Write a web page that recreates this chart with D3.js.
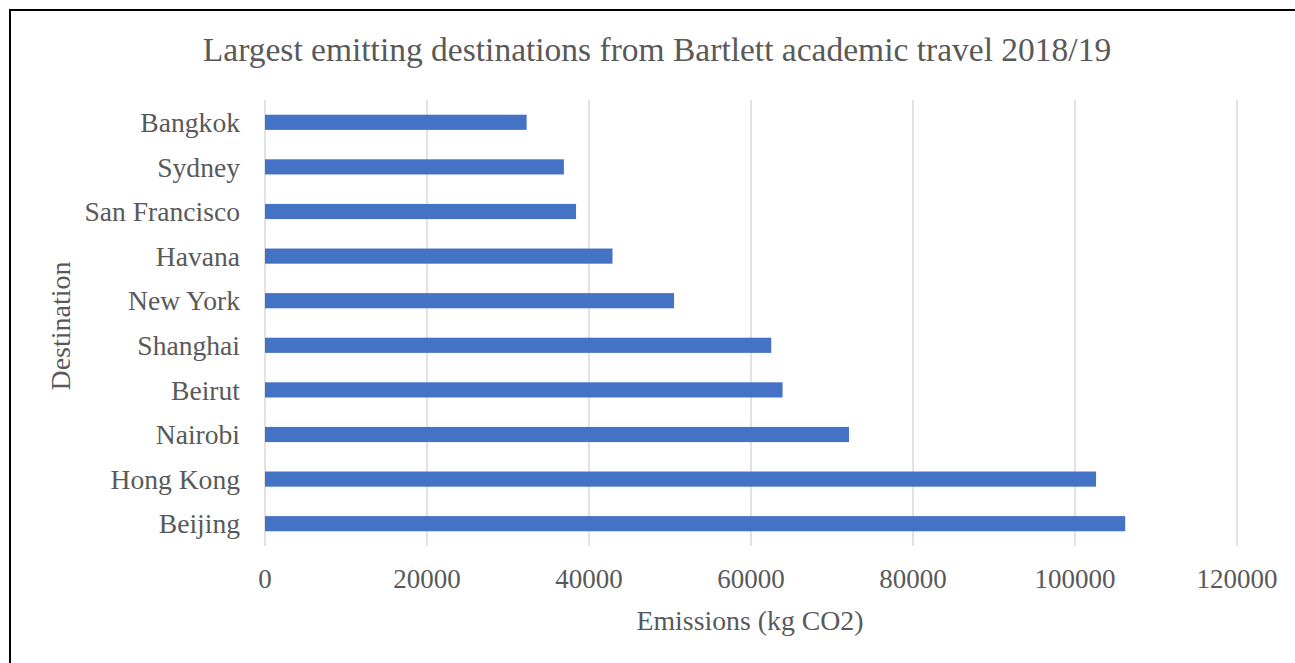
<!DOCTYPE html>
<html>
<head>
<meta charset="utf-8">
<script src="https://cdn.jsdelivr.net/npm/d3@7"></script>
<style>
  body { margin: 0; background: #fff; }
  text { font-family: "Liberation Serif", "Times New Roman", serif; fill: #595959; }
</style>
</head>
<body>
<svg id="chart"></svg>
<script>
// data
const destinations = ["Bangkok", "Sydney", "San Francisco", "Havana", "New York",
  "Shanghai", "Beirut", "Nairobi", "Hong Kong", "Beijing"];
const emissions = [32300, 36900, 38400, 42900, 50500, 62500, 63900, 72100, 102600, 106200];
const xTicks = [0, 20000, 40000, 60000, 80000, 100000, 120000];

const W = 1295, H = 663;
const margin = { top: 100, right: 58, bottom: 117, left: 265 };
const width = W - margin.left - margin.right;
const height = H - margin.top - margin.bottom;

const svg = d3.select("#chart").attr("width", W).attr("height", H);

// outer frame (right and bottom edges fall outside the view)
svg.append("rect")
  .attr("x", 10).attr("y", 10)
  .attr("width", 1300).attr("height", 700)
  .attr("fill", "none").attr("stroke", "#000").attr("stroke-width", 2);

const g = svg.append("g").attr("transform", `translate(${margin.left},${margin.top})`);

const x = d3.scaleLinear().domain([0, 120000]).range([0, width]);
const y = d3.scaleBand().domain(destinations).range([0, height]).paddingInner(0.66).paddingOuter(0.33);

// gridlines
g.selectAll(".grid").data(xTicks).enter().append("line")
  .attr("x1", d => x(d)).attr("x2", d => x(d))
  .attr("y1", 0).attr("y2", height)
  .attr("stroke", "#d9d9d9").attr("stroke-width", 1.5);

// bars
g.selectAll(".bar").data(destinations).enter().append("rect")
  .attr("x", x(0))
  .attr("y", d => y(d))
  .attr("width", (d, i) => x(emissions[i]) - x(0))
  .attr("height", y.bandwidth())
  .attr("fill", "#4472C4");

// x tick labels
g.selectAll(".xt").data(xTicks).enter().append("text")
  .attr("x", d => x(d)).attr("y", height + 42)
  .attr("text-anchor", "middle")
  .style("font-size", "27px")
  .text(d => d);

// category labels
g.selectAll(".yl").data(destinations).enter().append("text")
  .attr("x", -25).attr("y", d => y(d) + y.bandwidth() / 2)
  .attr("dy", "0.35em")
  .attr("text-anchor", "end")
  .style("font-size", "27.6px")
  .text(d => d);

// title
svg.append("text")
  .attr("x", 657).attr("y", 61)
  .attr("text-anchor", "middle")
  .style("font-size", "33.5px")
  .text("Largest emitting destinations from Bartlett academic travel 2018/19");

// axis titles
svg.append("text")
  .attr("x", 750).attr("y", 630)
  .attr("text-anchor", "middle")
  .style("font-size", "27.8px")
  .text("Emissions (kg CO2)");

svg.append("text")
  .attr("transform", "translate(70,326) rotate(-90)")
  .attr("text-anchor", "middle")
  .style("font-size", "28px")
  .text("Destination");
</script>
</body>
</html>
